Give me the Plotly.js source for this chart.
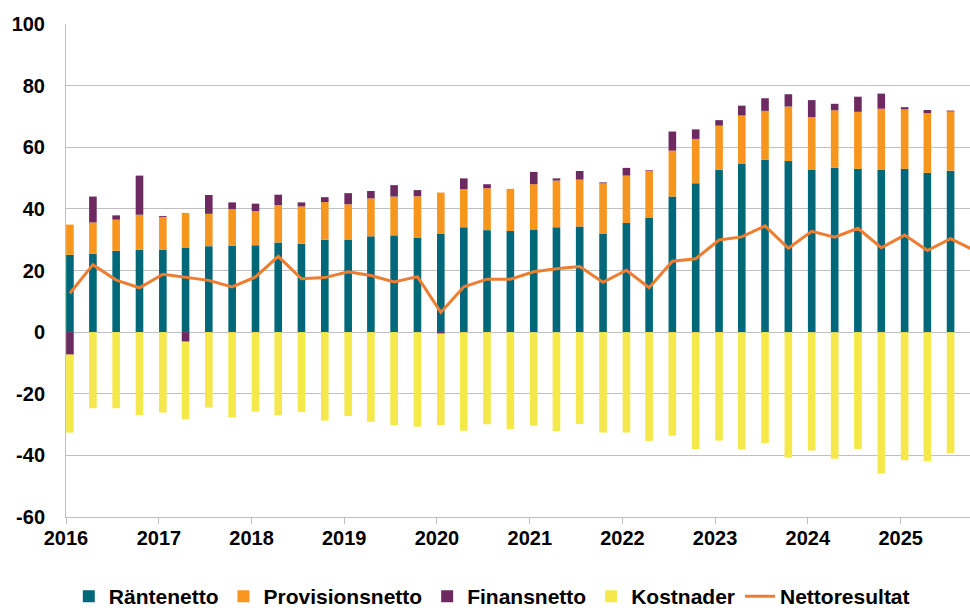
<!DOCTYPE html>
<html>
<head>
<meta charset="utf-8">
<script src="https://cdn.plot.ly/plotly-3.0.1.min.js"></script>
<style>html,body{margin:0;padding:0;background:#fff;}#chart{width:970px;height:610px;}</style>
</head>
<body>
<div id="chart"></div>
<script>
// Quarter periods (month of quarter start)
const quarters = [
  '2016-01','2016-04','2016-07','2016-10',
  '2017-01','2017-04','2017-07','2017-10',
  '2018-01','2018-04','2018-07','2018-10',
  '2019-01','2019-04','2019-07','2019-10',
  '2020-01','2020-04','2020-07','2020-10',
  '2021-01','2021-04','2021-07','2021-10',
  '2022-01','2022-04','2022-07','2022-10',
  '2023-01','2023-04','2023-07','2023-10',
  '2024-01','2024-04','2024-07','2024-10',
  '2025-01','2025-04','2025-07'
];
const lineQuarters = quarters.concat(['2025-10']);

const rantenetto = [25.1,25.4,26.4,26.7, 26.7,27.3,27.9,28.0, 28.2,29.1,28.7,30.0, 29.9,31.1,31.4,30.7,
  32.0,34.0,33.1,32.8, 33.3,34.0,34.3,32.0, 35.4,37.2,44.0,48.3, 52.7,54.7,55.9,55.5,
  52.8,53.3,53.0,52.8, 53.0,51.7,52.4];
const provisionsnetto = [9.8,10.2,10.1,11.4, 10.7,11.4,10.5,11.9, 11.1,12.1,12.1,12.2, 11.6,12.3,12.6,13.4,
  13.3,12.4,13.6,13.7, 14.7,15.2,15.2,16.3, 15.4,15.2,14.9,14.4, 14.3,15.6,15.9,17.7,
  17.0,18.7,18.5,19.7, 19.3,19.4,19.2];
const finansnetto = [-7.3,8.4,1.4,12.7, 0.3,-3.1,6.1,2.2, 2.4,3.4,1.3,1.6, 3.6,2.4,3.7,2.0,
  -0.5,3.5,1.3,0.0, 4.0,0.7,2.8,0.3, 2.5,0.2,6.2,3.1, 1.8,3.2,4.1,4.0,
  5.5,2.1,4.9,4.9, 0.7,1.0,0.3];
const kostnader = [-25.3,-24.7,-24.7,-26.9, -26.1,-25.2,-24.5,-27.7, -25.8,-27.0,-25.9,-28.7, -27.2,-29.1,-30.2,-30.7,
  -29.7,-32.0,-29.9,-31.4, -30.4,-32.2,-29.8,-32.6, -32.6,-35.3,-33.6,-38.0, -35.2,-38.1,-36.0,-40.7,
  -38.4,-41.1,-37.9,-45.9, -41.6,-41.8,-39.3];
const nettoresultat = [12.6,21.9,16.9,14.4, 18.8,17.9,16.8,14.7, 17.9,24.6,17.3,17.7, 19.6,18.4,16.3,18.0,
  6.4,14.7,17.2,17.2, 19.6,20.6,21.3,16.2, 20.1,14.4,23.0,23.8, 29.9,30.9,34.5,27.2,
  32.7,30.8,33.7,27.4, 31.5,26.5,30.3, 26.6];

const yTicks = [-60,-40,-20,0,20,40,60,80,100];

const DAY = 86400000;
const barWidth = 30 * DAY;
const font = {family: 'Arial, "Liberation Sans", sans-serif', size: 20, color: '#000', weight: 700};

function barTrace(name, y, color) {
  return {
    type: 'bar', name: name, x: quarters, y: y,
    xperiod: 'M1', xperiodalignment: 'middle',
    width: barWidth,
    marker: {color: color, line: {width: 0}},
    hoverinfo: 'skip'
  };
}

const traces = [
  barTrace('Räntenetto', rantenetto, '#006878'),
  barTrace('Provisionsnetto', provisionsnetto, '#F7961F'),
  barTrace('Finansnetto', finansnetto, '#6C2A60'),
  barTrace('Kostnader', kostnader, '#F5E84A'),
  {
    type: 'scatter', mode: 'lines', name: 'Nettoresultat',
    x: lineQuarters, y: nettoresultat,
    xperiod: 'M1', xperiodalignment: 'middle',
    line: {color: '#ED7D31', width: 3},
    hoverinfo: 'skip'
  }
];

const layout = {
  width: 970, height: 610,
  margin: {l: 66, r: 0, t: 24, b: 93},
  paper_bgcolor: '#fff', plot_bgcolor: '#fff',
  barmode: 'relative',
  showlegend: true,
  font: font,
  xaxis: {
    type: 'date',
    range: ['2016-01-01', '2025-10-01'],
    tick0: '2016-01-01', dtick: 'M12', tickformat: '%Y',
    ticks: 'outside', ticklen: 6, tickcolor: '#BFBFBF', tickwidth: 1,
    ticklabelstandoff: -3,
    showgrid: false,
    showline: true, linecolor: '#BFBFBF', linewidth: 1,
    tickfont: font,
    fixedrange: true
  },
  yaxis: {
    range: [-60, 100],
    tickvals: yTicks,
    ticktext: yTicks.map(String),
    showgrid: true, gridcolor: '#C0C0C0', gridwidth: 1,
    zeroline: true, zerolinecolor: '#C0C0C0', zerolinewidth: 1,
    showline: true, linecolor: '#BFBFBF', linewidth: 1,
    ticks: '', ticklabelstandoff: 16,
    tickfont: font,
    fixedrange: true
  },
  legend: {
    orientation: 'h',
    xref: 'container', x: 0.507, xanchor: 'center',
    yref: 'container', y: 0.022, yanchor: 'middle',
    font: {family: font.family, size: 21, color: '#000', weight: 700},
    traceorder: 'normal',
    itemwidth: 30
  }
};

Plotly.newPlot('chart', traces, layout, {displayModeBar: false, staticPlot: true});
</script>
</body>
</html>
